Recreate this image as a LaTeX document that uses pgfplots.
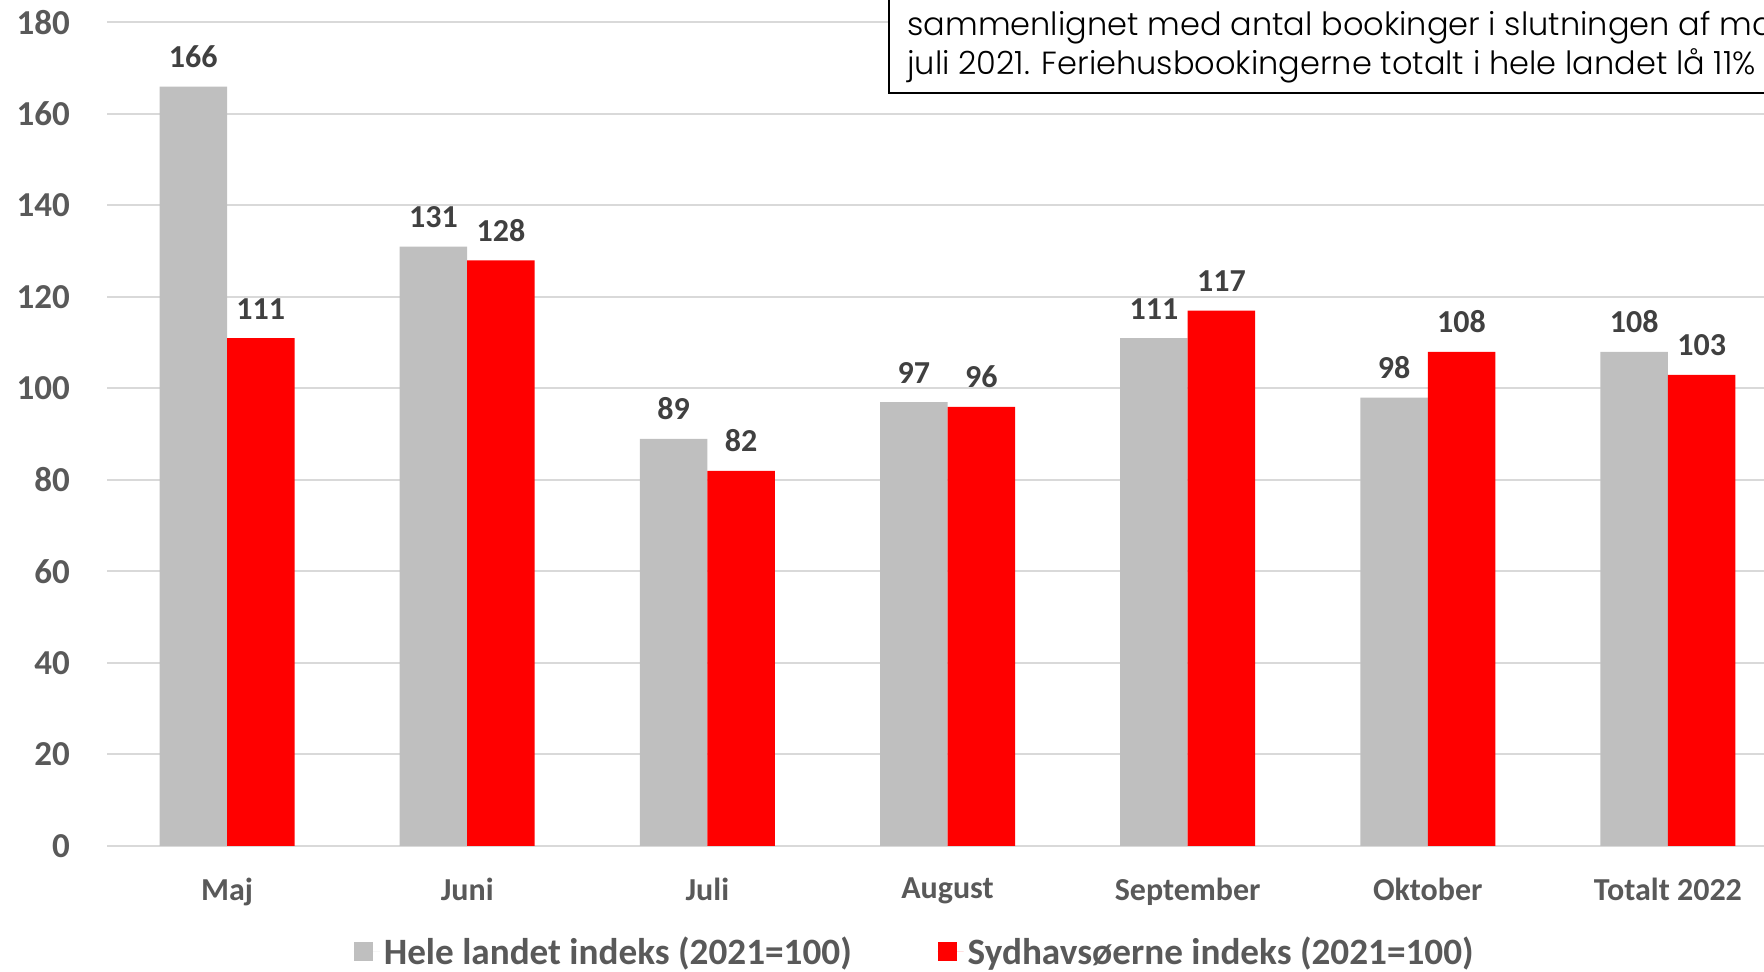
\documentclass[border=0pt]{standalone}
\usepackage{pgfplots}
\pgfplotsset{compat=1.18}
\usepackage{fontspec}
\setmainfont{Carlito}
\newfontfamily\gothic{Poppins Light}
\definecolor{barg}{HTML}{BFBFBF}
\definecolor{barr}{HTML}{FF0000}
\definecolor{tickc}{HTML}{595959}
\definecolor{labc}{HTML}{404040}
\definecolor{gridc}{HTML}{D9D9D9}
\begin{document}
\begin{tikzpicture}
\useasboundingbox (0,0) rectangle (882pt,486pt);
\clip (0,0) rectangle (882pt,486pt);
\begin{axis}[
  at={(53.5pt,63pt)}, anchor=south west, scale only axis,
  width=840.5pt, height=411.75pt,
  xmin=-0.5, xmax=6.5, ymin=0, ymax=180,
  ybar=0pt, bar width=33.75pt,
  xtick={0,...,6},
  xticklabels={Maj,Juni,Juli,August,September,Oktober,Totalt 2022},
  ytick={0,20,...,180},
  axis line style={draw=none},
  ymajorgrids, grid style={gridc, line width=1pt},
  major tick length=0pt,
  /pgf/number format/assume math mode=true,
  yticklabel style={font=\bfseries\fontsize{17.5}{17.5}\selectfont, color=tickc, xshift=-15pt},
  xticklabel style={font=\bfseries\fontsize{16}{16}\selectfont, color=tickc, yshift=-12.5pt},
  nodes near coords,
  every node near coord/.append style={font=\bfseries\fontsize{16}{16}\selectfont, color=labc, yshift=6pt},
  legend columns=2,
  legend style={at={(0.4811,-0.1285)}, anchor=center, draw=none, fill=none,
    font=\bfseries\fontsize{18.6}{18.6}\selectfont, text=tickc,
    /tikz/every even column/.append style={column sep=41pt},
    inner sep=0pt},
  legend image code/.code={\fill[#1] (0pt,-4.75pt) rectangle (9.5pt,4.75pt); \path (0pt,0pt) -- (13pt,0pt);},
]
\addplot[fill=barg, draw=none] coordinates {(0,166) (1,131) (2,89) (3,97) (4,111) (5,98) (6,108)};
\addplot[fill=barr, draw=none] coordinates {(0,111) (1,128) (2,82) (3,96) (4,117) (5,108) (6,103)};
\legend{Hele landet indeks (2021=100), Sydhavsøerne indeks (2021=100)}
\end{axis}
\draw[fill=white, line width=0.8pt] (444.5pt,439.5pt) rectangle (1000pt,600pt);
\node[anchor=base west, inner sep=0pt, font=\gothic\fontsize{16}{16}\selectfont] at (453.5pt,468pt) {sammenlignet med antal bookinger i slutningen af marts};
\node[anchor=base west, inner sep=0pt, font=\gothic\fontsize{16}{16}\selectfont] at (453.5pt,448.5pt) {juli 2021. Feriehusbookingerne totalt i hele landet lå 11\%};
\end{tikzpicture}
\end{document}
